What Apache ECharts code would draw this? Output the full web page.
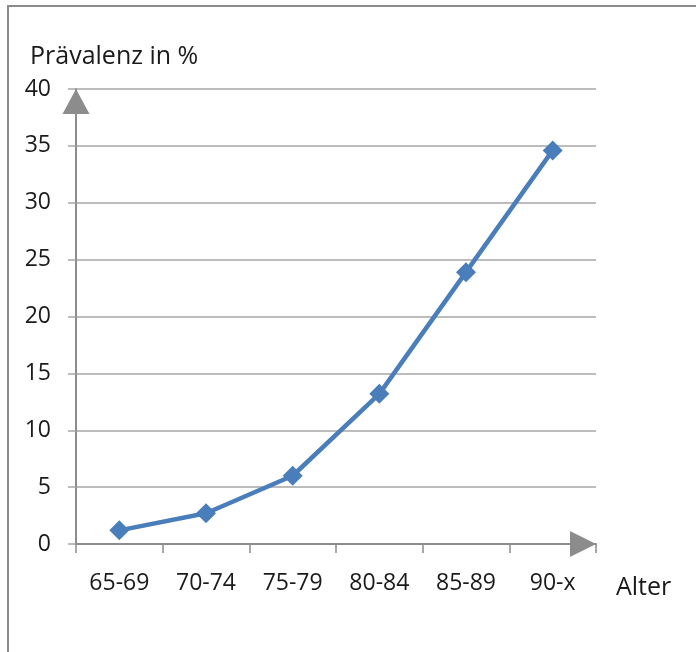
<!DOCTYPE html>
<html>
<head>
<meta charset="utf-8">
<script src="https://cdn.jsdelivr.net/npm/echarts@6/dist/echarts.min.js"></script>
<style>html,body{margin:0;padding:0;background:#fff}#c{width:696px;height:652px}</style>
</head>
<body>
<div id="c"></div>
<script>
const categories = ['65-69', '70-74', '75-79', '80-84', '85-89', '90-x'];
const prevalence = [1.2, 2.7, 6.0, 13.2, 23.9, 34.6];
const yTicks = [0, 5, 10, 15, 20, 25, 30, 35, 40];
const yTitle = 'Prävalenz in %';
const xTitle = 'Alter';

const FONT = 'Open Sans';
const chart = echarts.init(document.getElementById('c'), null, {renderer: 'canvas'});
chart.setOption({
  backgroundColor: '#fff',
  animation: false,
  grid: {left: 76, right: 100, top: 89, bottom: 108, containLabel: false},
  graphic: [
    {type: 'rect', shape: {x: 8, y: 6, width: 800, height: 800},
     style: {fill: 'none', stroke: '#8a8a8a', lineWidth: 2}, silent: true, z: -1},
    {type: 'text', x: 30, y: 57,
     style: {text: yTitle, font: '25px "Open Sans"', fill: '#1a1a1a', verticalAlign: 'middle', align: 'left'}},
    {type: 'text', x: 616, y: 588,
     style: {text: xTitle, font: '25px "Open Sans"', fill: '#1a1a1a', verticalAlign: 'middle', align: 'left'}}
  ],
  xAxis: {
    type: 'category',
    data: categories,
    boundaryGap: true,
    axisLine: {show: true, symbol: ['none', 'triangle'], symbolSize: [26, 26], symbolOffset: [0, -13],
      lineStyle: {color: '#8c8c8c', width: 2}},
    axisTick: {show: true, length: 9, lineStyle: {color: '#8c8c8c', width: 1.5}},
    axisLabel: {color: '#1a1a1a', fontFamily: FONT, fontSize: 23, margin: 28},
    splitLine: {show: false}
  },
  yAxis: {
    type: 'value',
    min: yTicks[0],
    max: yTicks[yTicks.length - 1],
    interval: yTicks[1] - yTicks[0],
    axisLine: {show: true, symbol: ['none', 'triangle'], symbolSize: [27, 25], symbolOffset: [0, -12.5],
      lineStyle: {color: '#8c8c8c', width: 2}},
    axisTick: {show: true, length: 8, lineStyle: {color: '#a6a6a6', width: 1.5}},
    axisLabel: {color: '#1a1a1a', fontFamily: FONT, fontSize: 23, margin: 25},
    splitLine: {show: true, lineStyle: {color: '#a6a6a6', width: 1.5}}
  },
  series: [{
    type: 'line',
    data: prevalence,
    symbol: 'diamond',
    symbolSize: 20,
    lineStyle: {color: '#4a7ebb', width: 4.5},
    itemStyle: {color: '#4a7ebb'},
    z: 5
  }]
});
</script>
</body>
</html>
